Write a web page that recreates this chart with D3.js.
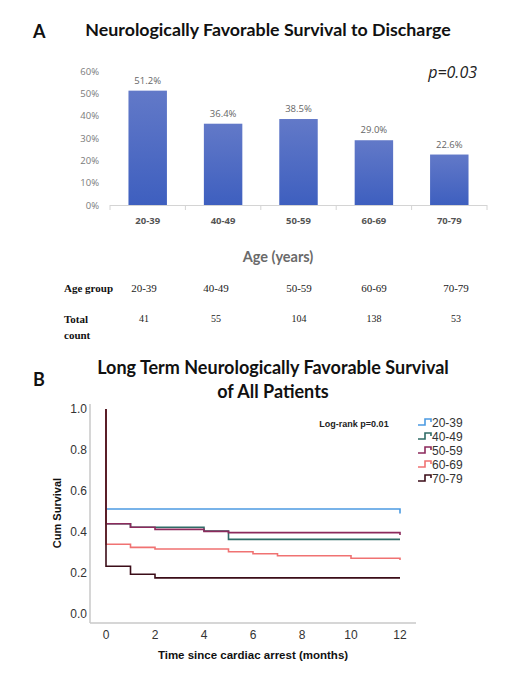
<!DOCTYPE html>
<html>
<head>
<meta charset="utf-8">
<script src="https://cdn.jsdelivr.net/npm/d3@7"></script>
<style>
  body { margin: 0; background: #fff; }
  svg { display: block; }
</style>
</head>
<body>
<svg id="chart" width="519" height="680"></svg>
<script>
// panel A data
var ageGroups = ["20-39", "40-49", "50-59", "60-69", "70-79"];
var survivalPct = [51.2, 36.4, 38.5, 29.0, 22.6];
var totalCount = [41, 55, 104, 138, 53];
var pctTicks = [0, 10, 20, 30, 40, 50, 60];

// panel B data: step points [month, cum survival]
var kmGroups = ["20-39", "40-49", "50-59", "60-69", "70-79"];
var kmColors = ["#4c9be2", "#2f6b66", "#8c2a5c", "#f07272", "#3b0d18"];
var km2039 = [[0, 1.0], [0, 0.512], [12, 0.49]];
var km4049 = [[0, 1.0], [0, 0.44], [1, 0.423], [4, 0.405], [5, 0.364], [12, 0.364]];
var km5059 = [[0, 1.0], [0, 0.44], [1, 0.423], [2, 0.413], [4, 0.403], [5, 0.397], [12, 0.385]];
var km6069 = [[0, 1.0], [0, 0.34], [1, 0.325], [2, 0.317], [5, 0.304], [6, 0.294], [7, 0.284], [10, 0.272], [12, 0.263]];
var km7079 = [[0, 1.0], [0, 0.233], [1, 0.194], [2, 0.176], [12, 0.176]];
var kmTicksX = [0, 2, 4, 6, 8, 10, 12];
var kmTicksY = [0, 0.2, 0.4, 0.6, 0.8, 1.0];

var svg = d3.select("#chart");
var defs = svg.append("defs");
var grad = defs.append("linearGradient").attr("id", "barGrad")
    .attr("x1", 0).attr("y1", 0).attr("x2", 0).attr("y2", 1);
grad.append("stop").attr("offset", "0%").attr("stop-color", "#6279c8");
grad.append("stop").attr("offset", "100%").attr("stop-color", "#3e5fbf");

// ---------- Panel A ----------
svg.append("text").attr("x", 33).attr("y", 38)
    .attr("font-family", "Lato, sans-serif").attr("font-weight", 700)
    .attr("font-size", 18).attr("fill", "#111").text("A");
svg.append("text").attr("x", 268).attr("y", 36)
    .attr("text-anchor", "middle")
    .attr("font-family", "Lato, sans-serif").attr("font-weight", 700)
    .attr("font-size", 17.8).attr("fill", "#111")
    .text("Neurologically Favorable Survival to Discharge");

var x = d3.scaleBand().domain(ageGroups).range([110, 487]).paddingInner(0.49).paddingOuter(0.245);
var y = d3.scaleLinear().domain([0, 60]).range([205, 71]);

var gA = svg.append("g");
gA.selectAll("text.ytick").data(pctTicks).enter().append("text")
    .attr("class", "ytick")
    .attr("x", 99).attr("y", function(d) { return y(d) + 3.5; })
    .attr("text-anchor", "end")
    .attr("font-family", "Open Sans, sans-serif").attr("font-size", 9.5)
    .attr("fill", "#7a7a7a")
    .text(function(d) { return d + "%"; });

gA.selectAll("rect.bar").data(survivalPct).enter().append("rect")
    .attr("class", "bar")
    .attr("x", function(d, i) { return x(ageGroups[i]); })
    .attr("y", function(d) { return y(d); })
    .attr("width", x.bandwidth())
    .attr("height", function(d) { return y(0) - y(d); })
    .attr("fill", "url(#barGrad)");

gA.selectAll("text.val").data(survivalPct).enter().append("text")
    .attr("class", "val")
    .attr("x", function(d, i) { return x(ageGroups[i]) + x.bandwidth() / 2; })
    .attr("y", function(d) { return y(d) - 7; })
    .attr("text-anchor", "middle")
    .attr("font-family", "Open Sans, sans-serif").attr("font-size", 9.5)
    .attr("fill", "#666")
    .text(function(d) { return d.toFixed(1) + "%"; });

// baseline + category dividers
gA.append("line").attr("x1", 110).attr("x2", 487).attr("y1", 205.5).attr("y2", 205.5)
    .attr("stroke", "#d4d4d4");
var dividers = [110].concat(ageGroups.map(function(g) { return x(g) + x.bandwidth() + x.step() * x.paddingInner() / 2; }));
gA.selectAll("line.div").data(dividers).enter().append("line")
    .attr("class", "div")
    .attr("x1", function(d) { return d; }).attr("x2", function(d) { return d; })
    .attr("y1", 205).attr("y2", 210).attr("stroke", "#d4d4d4");

gA.selectAll("text.cat").data(ageGroups).enter().append("text")
    .attr("class", "cat")
    .attr("x", function(d) { return x(d) + x.bandwidth() / 2; })
    .attr("y", 224)
    .attr("text-anchor", "middle")
    .attr("font-family", "Open Sans, sans-serif").attr("font-weight", 700)
    .attr("font-size", 9.5).attr("fill", "#555")
    .text(function(d) { return d; });

svg.append("text").attr("x", 477).attr("y", 78)
    .attr("text-anchor", "end")
    .attr("font-family", "Open Sans, sans-serif").attr("font-style", "italic")
    .attr("font-size", 16).attr("fill", "#222").text("p=0.03");

svg.append("text").attr("x", 278).attr("y", 262)
    .attr("text-anchor", "middle")
    .attr("font-family", "Lato, sans-serif").attr("font-weight", 700)
    .attr("font-size", 14.5).attr("fill", "#6a6a6a").text("Age (years)");

// table
var tableX = [144, 216, 299, 374, 456];
var serif = "Liberation Serif, Times New Roman, serif";
svg.append("text").attr("x", 64).attr("y", 292)
    .attr("font-family", serif).attr("font-weight", 700).attr("font-size", 11)
    .attr("fill", "#111").text("Age group");
svg.selectAll("text.tg").data(ageGroups).enter().append("text")
    .attr("class", "tg")
    .attr("x", function(d, i) { return tableX[i]; }).attr("y", 292)
    .attr("text-anchor", "middle")
    .attr("font-family", serif).attr("font-size", 11).attr("fill", "#222")
    .text(function(d) { return d; });
svg.append("text").attr("x", 64).attr("y", 323)
    .attr("font-family", serif).attr("font-weight", 700).attr("font-size", 11)
    .attr("fill", "#111").text("Total");
svg.append("text").attr("x", 64).attr("y", 339)
    .attr("font-family", serif).attr("font-weight", 700).attr("font-size", 11)
    .attr("fill", "#111").text("count");
svg.selectAll("text.tc").data(totalCount).enter().append("text")
    .attr("class", "tc")
    .attr("x", function(d, i) { return tableX[i]; }).attr("y", 322)
    .attr("text-anchor", "middle")
    .attr("font-family", serif).attr("font-size", 10).attr("fill", "#222")
    .text(function(d) { return d; });

// ---------- Panel B ----------
svg.append("text").attr("x", 33).attr("y", 386)
    .attr("font-family", "Lato, sans-serif").attr("font-weight", 700)
    .attr("font-size", 18).attr("fill", "#111").text("B");
svg.append("text").attr("x", 273).attr("y", 374)
    .attr("text-anchor", "middle")
    .attr("font-family", "Lato, sans-serif").attr("font-weight", 700)
    .attr("font-size", 18).attr("fill", "#111")
    .text("Long Term Neurologically Favorable Survival");
svg.append("text").attr("x", 273).attr("y", 398)
    .attr("text-anchor", "middle")
    .attr("font-family", "Lato, sans-serif").attr("font-weight", 700)
    .attr("font-size", 18).attr("fill", "#111")
    .text("of All Patients");

var kx = d3.scaleLinear().domain([0, 12]).range([106, 400]);
var ky = d3.scaleLinear().domain([0, 1]).range([614, 409]);
var arial = "Liberation Sans, Arial, sans-serif";

// axes lines
svg.append("line").attr("x1", 90).attr("x2", 90).attr("y1", 404).attr("y2", 623)
    .attr("stroke", "#c8c8c8").attr("stroke-width", 1.5);
svg.append("line").attr("x1", 90).attr("x2", 416).attr("y1", 623).attr("y2", 623)
    .attr("stroke", "#c8c8c8").attr("stroke-width", 1.5);

svg.selectAll("text.kyt").data(kmTicksY).enter().append("text")
    .attr("class", "kyt")
    .attr("x", 87).attr("y", function(d) { return ky(d) + 4; })
    .attr("text-anchor", "end")
    .attr("font-family", arial).attr("font-size", 12).attr("fill", "#333")
    .text(function(d) { return d.toFixed(1); });
svg.selectAll("text.kxt").data(kmTicksX).enter().append("text")
    .attr("class", "kxt")
    .attr("x", function(d) { return kx(d); }).attr("y", 639)
    .attr("text-anchor", "middle")
    .attr("font-family", arial).attr("font-size", 12).attr("fill", "#333")
    .text(function(d) { return d; });

svg.append("text").attr("transform", "translate(61,513) rotate(-90)")
    .attr("text-anchor", "middle")
    .attr("font-family", arial).attr("font-weight", 700).attr("font-size", 11)
    .attr("fill", "#111").text("Cum Survival");
svg.append("text").attr("x", 253).attr("y", 659)
    .attr("text-anchor", "middle")
    .attr("font-family", arial).attr("font-weight", 700).attr("font-size", 11.5)
    .attr("fill", "#111").text("Time since cardiac arrest (months)");

svg.append("text").attr("x", 354).attr("y", 427)
    .attr("text-anchor", "middle")
    .attr("font-family", arial).attr("font-weight", 700).attr("font-size", 9)
    .attr("fill", "#222").text("Log-rank p=0.01");

var kmSeries = [km2039, km4049, km5059, km6069, km7079];
var stepLine = d3.line().curve(d3.curveStepAfter)
    .x(function(d) { return kx(d[0]); })
    .y(function(d) { return ky(d[1]); });

svg.selectAll("path.km").data(kmSeries).enter().append("path")
    .attr("class", "km")
    .attr("d", stepLine)
    .attr("fill", "none")
    .attr("stroke", function(d, i) { return kmColors[i]; })
    .attr("stroke-width", 1.6);

// legend
var lg = svg.selectAll("g.leg").data(kmGroups).enter().append("g")
    .attr("class", "leg")
    .attr("transform", function(d, i) { return "translate(418," + (422 + i * 14) + ")"; });
lg.append("path")
    .attr("d", "M0,3 H7 V-3 H13 V0")
    .attr("fill", "none")
    .attr("stroke", function(d, i) { return kmColors[i]; })
    .attr("stroke-width", 1.6);
lg.append("text").attr("x", 14).attr("y", 4.5)
    .attr("font-family", arial).attr("font-size", 12).attr("fill", "#333")
    .text(function(d) { return d; });
</script>
</body>
</html>
